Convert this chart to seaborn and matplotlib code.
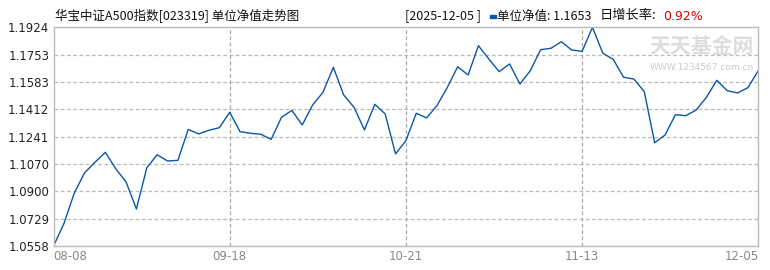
import numpy as np
import pandas as pd
import matplotlib
matplotlib.use("Agg")
import matplotlib.pyplot as plt
import seaborn as sns

# ---- data ----
nav = [1.0558, 1.0697, 1.0888, 1.1015, 1.1081, 1.1143, 1.1041, 1.0958, 1.0789, 1.1046,
       1.1128, 1.1089, 1.1093, 1.1286, 1.1258, 1.1281, 1.1297, 1.1393, 1.1272, 1.1262,
       1.1256, 1.1224, 1.1362, 1.1405, 1.1314, 1.1439, 1.1518, 1.1674, 1.1501, 1.1424,
       1.1283, 1.1443, 1.1383, 1.1133, 1.1216, 1.1387, 1.1358, 1.1435, 1.1549, 1.1678,
       1.1626, 1.1809, 1.1726, 1.1647, 1.1695, 1.1570, 1.1653, 1.1784, 1.1793, 1.1834,
       1.1782, 1.1774, 1.1924, 1.1762, 1.1724, 1.1612, 1.1601, 1.1522, 1.1203, 1.1251,
       1.1378, 1.1372, 1.1407, 1.1487, 1.1593, 1.1528, 1.1514, 1.1547, 1.1653]
x_tick_pos = [0, 17, 34, 51, 68]
x_tick_labels = ["08-08", "09-18", "10-21", "11-13", "12-05"]
y_ticks = [1.0558, 1.072875, 1.08995, 1.107025, 1.1241, 1.141175, 1.15825, 1.175325, 1.1924]
y_tick_labels = ["1.0558", "1.0729", "1.0900", "1.1070", "1.1241", "1.1412", "1.1583", "1.1753", "1.1924"]
title = "华宝中证A500指数[023319] 单位净值走势图"
date_label = "[2025-12-05 ]"
nav_label = "单位净值: 1.1653"
growth_label = "日增长率:"
growth_value = "0.92%"

df = pd.DataFrame({"idx": np.arange(len(nav)), "nav": nav})

sns.set_style("white")
plt.rcParams['font.family'] = ['Noto Sans CJK SC', 'DejaVu Sans']

W, H = 770, 270
fig = plt.figure(figsize=(W / 100, H / 100), dpi=100)
L, R, T, B = 53.5, 758.3, 27.3, 246
ax = fig.add_axes([L / W, 1 - B / H, (R - L) / W, (B - T) / H])

sns.lineplot(data=df, x="idx", y="nav", ax=ax, color="#0a57a8", linewidth=1.0)

ax.set_xlim(0, len(nav) - 1)
ax.set_ylim(y_ticks[0], y_ticks[-1])
ax.set_xlabel("")
ax.set_ylabel("")

ax.set_yticks(y_ticks)
ax.set_yticklabels(y_tick_labels, fontsize=8.5, color="#222222", family="DejaVu Sans")
ax.set_xticks(x_tick_pos)
xl = ax.set_xticklabels(x_tick_labels, fontsize=8.5, color="#888888", family="DejaVu Sans")
xl[0].set_ha("left")
xl[-1].set_ha("right")
ax.tick_params(axis="both", length=0, pad=3)

for y in y_ticks[1:-1]:
    ax.axhline(y, color="#bbbbbb", linestyle=(0, (3, 2)), linewidth=0.9, zorder=0)
for xp in x_tick_pos[1:-1]:
    ax.axvline(xp, color="#aaaaaa", linestyle=(0, (3, 2)), linewidth=0.9, zorder=0)

for s in ax.spines.values():
    s.set_color("#bbbbbb")
    s.set_linewidth(1.0)

# watermark
ax.text(0.92, 0.91, "天天基金网", transform=ax.transAxes, ha="center", va="center",
        fontsize=15, color="#dddddd", fontweight="bold", zorder=0)
ax.text(0.92, 0.815, "WWW.1234567.com.cn", transform=ax.transAxes, ha="center", va="center",
        fontsize=6.5, color="#cccccc", family="DejaVu Sans", zorder=0)

# header
ty = 1 - 16 / H
fig.text(55 / W, ty, title, fontsize=9, color="#111111", va="center", ha="left")
fig.text(405 / W, ty, date_label, fontsize=9, color="#111111", va="center", ha="left")
fig.patches.append(matplotlib.patches.Rectangle((490 / W, 1 - 17.5 / H), 6 / W, 3 / H,
                                                transform=fig.transFigure, color="#0a57a8"))
fig.text(497 / W, ty, nav_label, fontsize=9, color="#111111", va="center", ha="left")
fig.text(600 / W, ty, growth_label, fontsize=9.5, color="#111111", va="center", ha="left")
fig.text(663 / W, ty, growth_value, fontsize=9, color="#dd0000", va="center", ha="left",
         family="DejaVu Sans")

fig.savefig("out.png", dpi=100)
